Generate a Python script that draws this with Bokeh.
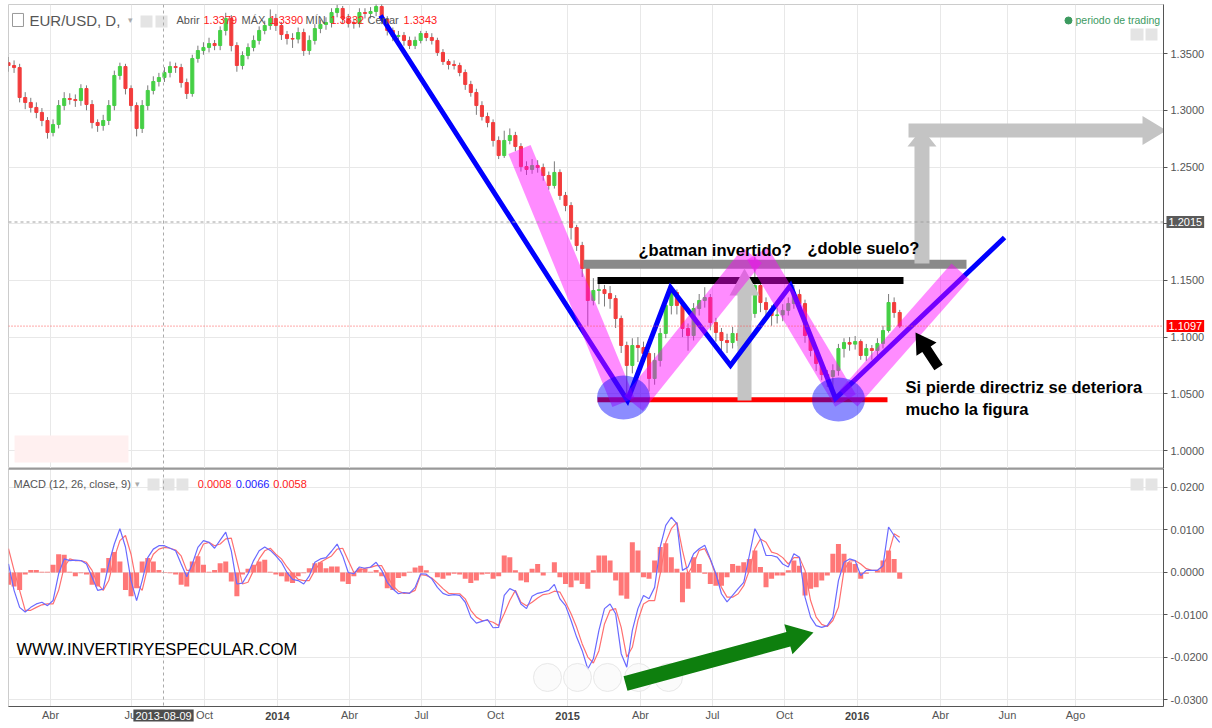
from math import hypot
from bokeh.plotting import figure
from bokeh.layouts import column
from bokeh.models import ColumnDataSource, Range1d, FixedTicker, PrintfTickFormatter, Span, Label
from bokeh.embed import file_html
from bokeh.resources import INLINE

# ---------------- data (weekly samples; x = week index) ----------------
open_first = 1.3420
closes = [
    1.3395, 1.3377, 1.3113, 1.3069, 1.3025, 1.2981, 1.2910, 1.2804, 1.2875, 1.3042,
    1.3104, 1.3095, 1.3086, 1.3192, 1.3051, 1.2892, 1.2866, 1.2910, 1.3042, 1.3307,
    1.3386, 1.3192, 1.3042, 1.2840, 1.3042, 1.3175, 1.3254, 1.3289, 1.3333, 1.3386,
    1.3377, 1.3245, 1.3148, 1.3457, 1.3527, 1.3554, 1.3589, 1.3571, 1.3704, 1.3810,
    1.3571, 1.3395, 1.3483, 1.3554, 1.3616, 1.3704, 1.3748, 1.3810, 1.3748, 1.3668,
    1.3633, 1.3628, 1.3686, 1.3527, 1.3616, 1.3721, 1.3757, 1.3774, 1.3862, 1.3898,
    1.3810, 1.3774, 1.3765, 1.3862, 1.3854, 1.3871, 1.3915, 1.3801, 1.3704, 1.3651,
    1.3660, 1.3616, 1.3571, 1.3616, 1.3677, 1.3642, 1.3616, 1.3510, 1.3430, 1.3404,
    1.3395, 1.3333, 1.3228, 1.3157, 1.3042, 1.2945, 1.2892, 1.2734, 1.2601, 1.2734,
    1.2778, 1.2681, 1.2504, 1.2478, 1.2513, 1.2496, 1.2425, 1.2337, 1.2452, 1.2249,
    1.2160, 1.1966, 1.1808, 1.1605, 1.1323, 1.1411, 1.1418, 1.1384, 1.1340, 1.1164,
    1.0926, 1.0750, 1.0926, 1.0908, 1.0855, 1.0635, 1.0794, 1.1032, 1.1279, 1.1393,
    1.1279, 1.1076, 1.1014, 1.1252, 1.1323, 1.1349, 1.1129, 1.1041, 1.0970, 1.0952,
    1.1032, 1.0970, 1.1146, 1.1208, 1.1455, 1.1305, 1.1243, 1.1190, 1.1196, 1.1235,
    1.1296, 1.1376, 1.1296, 1.1014, 1.0882, 1.0767, 1.0670, 1.0653, 1.0705, 1.0899,
    1.0952, 1.0938, 1.0961, 1.0838, 1.0899, 1.0882, 1.0944, 1.1058, 1.1305, 1.1217,
    1.1097]
highs = [
    1.347, 1.344, 1.341, 1.316, 1.311, 1.307, 1.302, 1.294, 1.292, 1.309,
    1.316, 1.315, 1.314, 1.323, 1.322, 1.309, 1.292, 1.296, 1.309, 1.335,
    1.342, 1.341, 1.322, 1.307, 1.309, 1.322, 1.330, 1.333, 1.338, 1.343,
    1.342, 1.341, 1.328, 1.349, 1.357, 1.360, 1.364, 1.362, 1.374, 1.386,
    1.384, 1.360, 1.352, 1.359, 1.366, 1.374, 1.379, 1.389, 1.385, 1.378,
    1.370, 1.368, 1.373, 1.372, 1.366, 1.376, 1.380, 1.382, 1.390, 1.393,
    1.392, 1.385, 1.381, 1.390, 1.390, 1.391, 1.399, 1.394, 1.383, 1.373,
    1.370, 1.369, 1.365, 1.365, 1.370, 1.370, 1.368, 1.364, 1.354, 1.345,
    1.344, 1.342, 1.336, 1.326, 1.319, 1.308, 1.298, 1.292, 1.277, 1.282,
    1.284, 1.281, 1.271, 1.255, 1.257, 1.256, 1.253, 1.246, 1.255, 1.248,
    1.228, 1.219, 1.199, 1.184, 1.162, 1.152, 1.147, 1.146, 1.145, 1.137,
    1.119, 1.096, 1.099, 1.100, 1.096, 1.088, 1.086, 1.108, 1.133, 1.146,
    1.142, 1.131, 1.112, 1.130, 1.138, 1.144, 1.138, 1.117, 1.108, 1.103,
    1.109, 1.107, 1.119, 1.126, 1.171, 1.150, 1.135, 1.128, 1.126, 1.129,
    1.135, 1.146, 1.142, 1.133, 1.104, 1.092, 1.080, 1.071, 1.076, 1.094,
    1.099, 1.100, 1.101, 1.098, 1.094, 1.093, 1.099, 1.110, 1.138, 1.135,
    1.124]
lows = [
    1.334, 1.333, 1.307, 1.301, 1.298, 1.293, 1.286, 1.275, 1.277, 1.284,
    1.300, 1.305, 1.303, 1.304, 1.300, 1.284, 1.281, 1.282, 1.287, 1.300,
    1.327, 1.314, 1.299, 1.277, 1.280, 1.300, 1.314, 1.321, 1.325, 1.329,
    1.333, 1.320, 1.310, 1.312, 1.342, 1.349, 1.351, 1.353, 1.353, 1.366,
    1.352, 1.334, 1.336, 1.345, 1.352, 1.358, 1.367, 1.371, 1.370, 1.362,
    1.358, 1.355, 1.359, 1.348, 1.349, 1.358, 1.368, 1.371, 1.373, 1.382,
    1.376, 1.373, 1.372, 1.373, 1.381, 1.381, 1.383, 1.376, 1.366, 1.361,
    1.361, 1.357, 1.354, 1.354, 1.359, 1.361, 1.358, 1.348, 1.340, 1.336,
    1.336, 1.330, 1.318, 1.312, 1.296, 1.291, 1.285, 1.268, 1.257, 1.258,
    1.270, 1.264, 1.246, 1.243, 1.244, 1.245, 1.238, 1.230, 1.231, 1.221,
    1.211, 1.186, 1.176, 1.153, 1.110, 1.128, 1.129, 1.127, 1.125, 1.108,
    1.086, 1.046, 1.068, 1.078, 1.077, 1.052, 1.058, 1.074, 1.099, 1.120,
    1.120, 1.100, 1.088, 1.097, 1.119, 1.126, 1.106, 1.096, 1.088, 1.086,
    1.090, 1.092, 1.093, 1.110, 1.117, 1.122, 1.115, 1.110, 1.112, 1.114,
    1.119, 1.125, 1.124, 1.095, 1.083, 1.070, 1.062, 1.056, 1.052, 1.066,
    1.082, 1.088, 1.089, 1.080, 1.079, 1.080, 1.083, 1.090, 1.104, 1.117,
    1.108]

macd_line = [
    0.0020, -0.0042, -0.0082, -0.0093, -0.0082, -0.0074, -0.0070, -0.0078, -0.0066, -0.0003,
    0.0032, 0.0028, 0.0029, 0.0028, 0.0020, -0.0011, -0.0042, -0.0039, 0.0020, 0.0067,
    0.0103, 0.0060, -0.0019, -0.0066, -0.0019, 0.0035, 0.0055, 0.0063, 0.0063, 0.0057,
    0.0051, 0.0020, -0.0010, 0.0020, 0.0059, 0.0075, 0.0071, 0.0057, 0.0076, 0.0095,
    0.0051, -0.0027, -0.0025, -0.0003, 0.0028, 0.0051, 0.0060, 0.0052, 0.0039, 0.0024,
    0.0000, -0.0016, -0.0019, -0.0027, -0.0008, 0.0024, 0.0032, 0.0035, 0.0050, 0.0067,
    0.0039, 0.0000, -0.0003, 0.0013, 0.0010, 0.0013, 0.0024, 0.0005, -0.0023, -0.0039,
    -0.0050, -0.0047, -0.0049, -0.0035, -0.0003, -0.0004, -0.0015, -0.0035, -0.0049, -0.0054,
    -0.0052, -0.0054, -0.0070, -0.0105, -0.0119, -0.0115, -0.0111, -0.0130, -0.0129, -0.0054,
    -0.0038, -0.0044, -0.0074, -0.0085, -0.0056, -0.0049, -0.0046, -0.0042, -0.0028, -0.0062,
    -0.0078, -0.0113, -0.0152, -0.0184, -0.0227, -0.0203, -0.0136, -0.0085, -0.0074, -0.0097,
    -0.0191, -0.0223, -0.0136, -0.0085, -0.0054, -0.0062, -0.0035, 0.0060, 0.0111, 0.0130,
    0.0115, 0.0005, 0.0013, 0.0044, 0.0056, 0.0064, 0.0032, -0.0003, -0.0050, -0.0069,
    -0.0054, -0.0038, -0.0023, 0.0040, 0.0103, 0.0079, 0.0040, 0.0040, 0.0036, 0.0020,
    0.0013, 0.0044, 0.0036, -0.0058, -0.0105, -0.0125, -0.0129, -0.0125, -0.0105, -0.0019,
    0.0024, 0.0032, 0.0028, -0.0007, 0.0005, 0.0005, 0.0005, 0.0016, 0.0107, 0.0087,
    0.0071]
signal_line = [
    0.0056, 0.0005, -0.0042, -0.0089, -0.0089, -0.0082, -0.0076, -0.0074, -0.0074, -0.0042,
    0.0013, 0.0032, 0.0028, 0.0028, 0.0024, 0.0005, -0.0027, -0.0042, -0.0019, 0.0035,
    0.0075, 0.0087, 0.0043, -0.0027, -0.0042, 0.0013, 0.0043, 0.0055, 0.0059, 0.0057,
    0.0053, 0.0039, 0.0005, 0.0005, 0.0039, 0.0067, 0.0071, 0.0063, 0.0067, 0.0079,
    0.0081, 0.0028, -0.0027, -0.0023, 0.0005, 0.0032, 0.0051, 0.0057, 0.0043, 0.0032,
    0.0013, -0.0003, -0.0016, -0.0019, -0.0019, 0.0005, 0.0024, 0.0032, 0.0039, 0.0055,
    0.0057, 0.0028, 0.0000, 0.0005, 0.0010, 0.0012, 0.0016, 0.0016, -0.0008, -0.0031,
    -0.0044, -0.0049, -0.0048, -0.0042, -0.0005, -0.0007, -0.0013, -0.0025, -0.0038, -0.0049,
    -0.0050, -0.0050, -0.0062, -0.0089, -0.0105, -0.0113, -0.0113, -0.0117, -0.0125, -0.0097,
    -0.0066, -0.0042, -0.0070, -0.0078, -0.0070, -0.0060, -0.0052, -0.0050, -0.0044, -0.0046,
    -0.0070, -0.0097, -0.0129, -0.0168, -0.0199, -0.0213, -0.0184, -0.0121, -0.0089, -0.0085,
    -0.0129, -0.0199, -0.0176, -0.0113, -0.0074, -0.0066, -0.0066, -0.0003, 0.0071, 0.0103,
    0.0118, 0.0052, -0.0003, 0.0020, 0.0052, 0.0056, 0.0030, -0.0007, -0.0035, -0.0058,
    -0.0058, -0.0050, -0.0031, 0.0005, 0.0056, 0.0079, 0.0071, 0.0048, 0.0044, 0.0035,
    0.0020, 0.0035, 0.0035, 0.0005, -0.0066, -0.0105, -0.0122, -0.0127, -0.0113, -0.0082,
    0.0005, 0.0027, 0.0028, 0.0020, 0.0009, 0.0005, 0.0005, 0.0016, 0.0044, 0.0091,
    0.0083]
macd_hist = [
    -0.0029, -0.0033, -0.0041, -0.0005, 0.0006, 0.0006, 0.0002, 0.0002, 0.0018, 0.0043,
    0.0042, 0.0002, -0.0009, -0.0002, -0.0005, -0.0029, -0.0033, 0.0010, 0.0034, 0.0048,
    0.0026, -0.0041, -0.0056, -0.0037, 0.0026, 0.0034, 0.0026, 0.0006, 0.0001, -0.0002,
    -0.0005, -0.0029, -0.0033, 0.0026, 0.0038, 0.0018, 0.0002, 0.0006, 0.0022, 0.0026,
    -0.0021, -0.0056, -0.0005, 0.0009, 0.0018, 0.0026, 0.0030, 0.0002, -0.0005, -0.0009,
    -0.0021, -0.0025, -0.0009, -0.0002, 0.0010, 0.0022, 0.0024, 0.0010, 0.0014, 0.0014,
    -0.0021, -0.0027, -0.0009, 0.0010, 0.0009, 0.0002, 0.0006, -0.0009, -0.0037, -0.0041,
    -0.0013, -0.0009, 0.0002, 0.0012, 0.0016, 0.0005, 0.0000, -0.0011, -0.0015, -0.0007,
    -0.0003, -0.0005, -0.0015, -0.0025, -0.0019, -0.0005, -0.0003, -0.0015, -0.0009, 0.0040,
    0.0036, 0.0005, -0.0019, -0.0023, 0.0009, 0.0020, -0.0007, 0.0000, 0.0024, -0.0011,
    -0.0027, -0.0035, -0.0019, -0.0027, -0.0038, 0.0005, 0.0040, 0.0040, 0.0028, -0.0019,
    -0.0054, -0.0062, 0.0071, 0.0052, -0.0011, -0.0015, 0.0028, 0.0060, 0.0069, 0.0036,
    0.0009, -0.0070, -0.0038, 0.0036, 0.0020, -0.0003, -0.0027, -0.0031, -0.0031, -0.0011,
    0.0020, 0.0016, 0.0024, 0.0032, 0.0052, 0.0013, -0.0035, -0.0015, -0.0007, -0.0007,
    0.0005, 0.0028, 0.0016, -0.0054, -0.0038, -0.0035, -0.0019, -0.0007, 0.0044, 0.0067,
    0.0044, 0.0024, 0.0020, -0.0015, -0.0003, 0.0000, 0.0005, 0.0028, 0.0052, 0.0032,
    -0.0015]

price_ticks = [1.00, 1.05, 1.10, 1.15, 1.20, 1.25, 1.30, 1.35]
macd_ticks = [-0.03, -0.02, -0.01, 0.0, 0.01, 0.02]
month_ticks = [7.54, 22.08, 35.19, 48.29, 61.22, 74.15, 87.43, 100.36, 113.46, 126.39,
               139.32, 152.36, 167.33, 179.35, 191.56]
month_labels = ["Abr", "Jul", "Oct", "2014", "Abr", "Jul", "Oct", "2015", "Abr", "Jul",
                "Oct", "2016", "Abr", "Jun", "Ago"]
year_labels = ["2014", "2015", "2016"]

last_price = 1.1097
ref_price = 1.2015
cursor_week = 27.83
cursor_text = "2013-08-09"
header_values = ["1.3379", "1.3390", "1.3332", "1.3343"]
macd_values = ["0.0008", "0.0066", "0.0058"]

# hand-drawn annotations (week, price)
blue_x = [66.79, 111.13, 118.85, 129.62, 140.39, 148.47, 178.82]
blue_y = [1.3836, 1.0441, 1.1437, 1.0750, 1.1455, 1.0459, 1.1878]
band_x0 = [91.74, 112.21, 134.47, 150.81]
band_y0 = [1.2654, 1.0414, 1.1737, 1.0459]
band_x1 = [110.41, 133.57, 150.27, 170.92]
band_y1 = [1.0423, 1.1720, 1.0441, 1.1578]
ell_x = [110.41, 149.01]
ell_y = [1.0467, 1.0450]

# ---------------- layout constants ----------------
X0, X1 = 0.0, 207.36
FW = 1155
MAIN_FH = 464
MACD_FH = 238
P_LO, P_HI = 0.98413, 1.39330
M_LO, M_HI = -0.03153, 0.02447
FONT = "Liberation Sans"
GRID = "#e8e8e8"
AXC = "#555555"
KX = FW / (X1 - X0)
KY_MAIN = MAIN_FH / (P_HI - P_LO)
KY_MACD = MACD_FH / (M_HI - M_LO)


def arrow_shape(x0, y0, x1, y1, shaft, head_len, head_w, ky):
    ax, ay, bx, by = x0 * KX, y0 * ky, x1 * KX, y1 * ky
    L = hypot(bx - ax, by - ay)
    ux, uy = (bx - ax) / L, (by - ay) / L
    nx, ny = -uy, ux
    cx, cy = bx - ux * head_len, by - uy * head_len
    s, h = shaft / 2.0, head_w / 2.0
    pts = [(ax + nx * s, ay + ny * s), (cx + nx * s, cy + ny * s), (cx + nx * h, cy + ny * h),
           (bx, by), (cx - nx * h, cy - ny * h), (cx - nx * s, cy - ny * s),
           (ax - nx * s, ay - ny * s)]
    return [q[0] / KX for q in pts], [q[1] / ky for q in pts]


def make_label(x, y, text, size="11px", color=AXC, style="normal", align="left", **kw):
    return Label(x=x, y=y, text=text, text_font=FONT, text_font_size=size,
                 text_color=color, text_font_style=style, text_align=align,
                 text_baseline="middle", **kw)


def txt(fig, *args, **kw):
    fig.add_layout(make_label(*args, **kw))


def style_yaxis(fig, ticks, fmt):
    ax = fig.yaxis[0]
    ax.ticker = FixedTicker(ticks=ticks)
    ax.formatter = PrintfTickFormatter(format=fmt)
    ax.major_label_text_font = FONT
    ax.major_label_text_font_size = "11px"
    ax.major_label_text_color = AXC
    ax.axis_line_color = AXC
    ax.major_tick_line_color = AXC
    ax.major_tick_in = 0
    ax.major_tick_out = 4
    ax.minor_tick_line_color = None
    ax.major_label_standoff = 3
    fig.ygrid.ticker = FixedTicker(ticks=ticks)
    fig.ygrid.grid_line_color = GRID
    fig.xgrid.ticker = FixedTicker(ticks=month_ticks)
    fig.xgrid.grid_line_color = GRID


# ---------------- main price panel ----------------
p = figure(frame_width=FW, frame_height=MAIN_FH, x_range=Range1d(X0, X1),
           y_range=Range1d(P_LO, P_HI), x_axis_location=None, y_axis_location="right",
           toolbar_location=None, output_backend="svg", min_border_left=8,
           min_border_right=45, min_border_top=4, min_border_bottom=0,
           background_fill_color="white", border_fill_color="white",
           outline_line_color="#cccccc")
style_yaxis(p, price_ticks, "%.4f")

p.quad(left=[1.08], right=[21.54], top=[1.0132], bottom=[0.9894],
       fill_color="#fff0f0", line_color=None)

weeks = list(range(len(closes)))
opens = [open_first] + closes[:-1]
src = ColumnDataSource(dict(
    x=weeks, h=highs, l=lows,
    top=[max(a, b) for a, b in zip(opens, closes)],
    bot=[min(a, b) for a, b in zip(opens, closes)],
    col=["#45cf45" if c >= o else "#f23c3c" for o, c in zip(opens, closes)]))
p.segment(x0="x", y0="l", x1="x", y1="h", source=src, line_color="#7a7a7a", line_width=1)
p.vbar(x="x", width=0.55, top="top", bottom="bot", source=src, fill_color="col",
       line_color="col")

# horizontal drawing lines: grey, black, red
p.segment(x0=[103.23], y0=[1.1642], x1=[171.99], y1=[1.1642], line_color="#8a8a8a",
          line_width=9, line_cap="butt")
p.segment(x0=[105.75], y0=[1.1499], x1=[160.68], y1=[1.1499], line_color="#000000",
          line_width=7, line_cap="butt")
p.segment(x0=[105.75], y0=[1.0447], x1=[157.81], y1=[1.0447], line_color="#ff0000",
          line_width=5, line_cap="butt")

# grey arrows
for a in [(132.14, 1.0441, 132.14, 1.1605, 14, 27, 30),
          (164.00, 1.1649, 164.00, 1.2840, 15, 18, 29),
          (161.58, 1.2822, 207.90, 1.2822, 14, 24, 29)]:
    xs, ys = arrow_shape(*a, KY_MAIN)
    p.patch(xs, ys, fill_color="#c4c4c4", line_color=None)

p.line(blue_x, blue_y, line_color="#0000ff", line_width=5, line_join="miter")
p.segment(x0=band_x0, y0=band_y0, x1=band_x1, y1=band_y1, line_color="#ff00ff",
          line_alpha=0.45, line_width=24, line_cap="butt")
p.ellipse(x=ell_x, y=ell_y, width=9.52, height=0.0388, fill_color="#0000ff",
          fill_alpha=0.45, line_color=None)

xs, ys = arrow_shape(166.97, 1.0732, 162.84, 1.1041, 10, 20, 24, KY_MAIN)
p.patch(xs, ys, fill_color="#000000", line_color=None)

# header widgets
p.quad(left=[0.72], right=[2.69], top=[1.3854], bottom=[1.3739], fill_color=None,
       line_color="#999999")
p.quad(left=[23.7, 26.39, 201.44, 204.13], right=[25.85, 28.55, 203.77, 206.28],
       top=[1.3836, 1.3836, 1.3721, 1.3721], bottom=[1.3730, 1.3730, 1.3616, 1.3616],
       fill_color="#e4e4e4", line_color=None)
p.scatter(x=[190.3], y=[1.3792], size=7, color="#3c9a5f")

p.add_layout(Span(location=ref_price, dimension="width", line_color="#a0a0a0",
                  line_dash="3 3", line_width=1))
p.add_layout(Span(location=last_price, dimension="width", line_color="#ff5050",
                  line_dash="1 2", line_width=1))
p.add_layout(Span(location=cursor_week, dimension="height", line_color="#aaaaaa",
                  line_dash="3 3", line_width=1))

txt(p, 3.77, 1.3792, "EUR/USD, D,", size="15px", color="#555555")
txt(p, 21.5, 1.3792, "▾", size="9px", color="#aaaaaa")
txt(p, 30.16, 1.3792, "Abrir", color="#555555")
txt(p, 35.01, 1.3792, header_values[0], color="#ff2020")
txt(p, 41.83, 1.3792, "MÁX", color="#555555")
txt(p, 46.86, 1.3792, header_values[1], color="#ff2020")
txt(p, 53.32, 1.3792, "MÍN", color="#555555")
txt(p, 57.81, 1.3792, header_values[2], color="#ff2020")
txt(p, 64.45, 1.3792, "Cerrar", color="#555555")
txt(p, 70.92, 1.3792, header_values[3], color="#ff2020")
txt(p, 191.56, 1.3792, "periodo de trading", size="10.5px", color="#3c9a5f")

txt(p, 113.11, 1.1764, "¿batman invertido?", size="16.5px", color="#000000", style="bold")
txt(p, 143.45, 1.1790, "¿doble suelo?", size="16.5px", color="#000000", style="bold")
txt(p, 161.04, 1.0556, "Si pierde directriz se deteriora", size="16.5px", color="#000000",
    style="bold")
txt(p, 161.04, 1.0362, " mucho la figura", size="16.5px", color="#000000", style="bold")

# price boxes on the right axis: labels placed in the side panel (not clipped to frame)
box_x = X1 + 3.0 / KX
for val, bg in [(ref_price, "#5a5a5a"), (last_price, "#ff0000")]:
    p.add_layout(make_label(box_x, val, "%.4f" % val, color="white",
                            background_fill_color=bg, padding=2), "right")

# ---------------- MACD panel ----------------
p2 = figure(frame_width=FW, frame_height=MACD_FH, x_range=p.x_range,
            y_range=Range1d(M_LO, M_HI), y_axis_location="right", toolbar_location=None,
            output_backend="svg", min_border_left=8, min_border_right=45, min_border_top=0,
            min_border_bottom=0, background_fill_color="white", border_fill_color="white",
            outline_line_color="#cccccc")
style_yaxis(p2, macd_ticks, "%.4f")
xa = p2.xaxis[0]
xa.ticker = FixedTicker(ticks=month_ticks)
xa.major_label_overrides = {t: ("" if lab in year_labels else lab)
                            for t, lab in zip(month_ticks, month_labels)}
xa.major_label_text_font = FONT
xa.major_label_text_font_size = "11px"
xa.major_label_text_color = AXC
xa.axis_line_color = AXC
xa.major_tick_in = 0
xa.major_tick_out = 0
xa.minor_tick_line_color = None
xa.major_label_standoff = 2

p2.vbar(x=weeks, width=0.9, top=macd_hist, bottom=0, fill_color="#ff4a4a",
        fill_alpha=0.75, line_color=None)
p2.line(weeks, signal_line, line_color="#ff7070", line_width=1.2)
p2.line(weeks, macd_line, line_color="#6a6aff", line_width=1.2)

p2.scatter(x=[96.77, 102.15, 107.54, 113.11, 118.49], y=[-0.0247] * 5, size=28,
           fill_color="#fafafa", fill_alpha=0.7, line_color="#e8e8e8")
xs, ys = arrow_shape(110.77, -0.02612, 144.52, -0.01412, 15, 26, 31, KY_MACD)
p2.patch(xs, ys, fill_color="#0e7f0e", line_color=None)

p2.quad(left=[24.96, 27.65, 30.16, 201.44, 204.13], right=[27.11, 29.8, 32.3, 203.77, 206.28],
        top=[0.02212] * 5, bottom=[0.01929] * 5, fill_color="#e4e4e4", line_color=None)

p2.add_layout(Span(location=M_HI, dimension="width", line_color="#666666", line_width=2))
p2.add_layout(Span(location=cursor_week, dimension="height", line_color="#aaaaaa",
                   line_dash="3 3", line_width=1))

txt(p2, 0.90, 0.02087, "MACD (12, 26, close, 9)", color="#555555")
txt(p2, 22.8, 0.02087, "▾", size="9px", color="#aaaaaa")
txt(p2, 33.99, 0.02087, macd_values[0], color="#ff2020")
txt(p2, 40.80, 0.02087, macd_values[1], color="#2020ff")
txt(p2, 47.52, 0.02087, macd_values[2], color="#ff2020")
txt(p2, 1.44, -0.01795, "WWW.INVERTIRYESPECULAR.COM", size="16.5px", color="#000000")

# bold year labels and cursor date box in the bottom side panel (not clipped)
label_y = M_LO - 9.0 / KY_MACD
for t, lab in zip(month_ticks, month_labels):
    if lab in year_labels:
        p2.add_layout(make_label(t, label_y, lab, color="#444444", style="bold",
                                 align="center"), "below")
p2.add_layout(make_label(cursor_week, label_y, cursor_text, color="white", align="center",
                         background_fill_color="#4d4d4d", padding=2), "below")

layout = column(p, p2)
open("out.html", "w").write(file_html(layout, INLINE, "EUR/USD"))
